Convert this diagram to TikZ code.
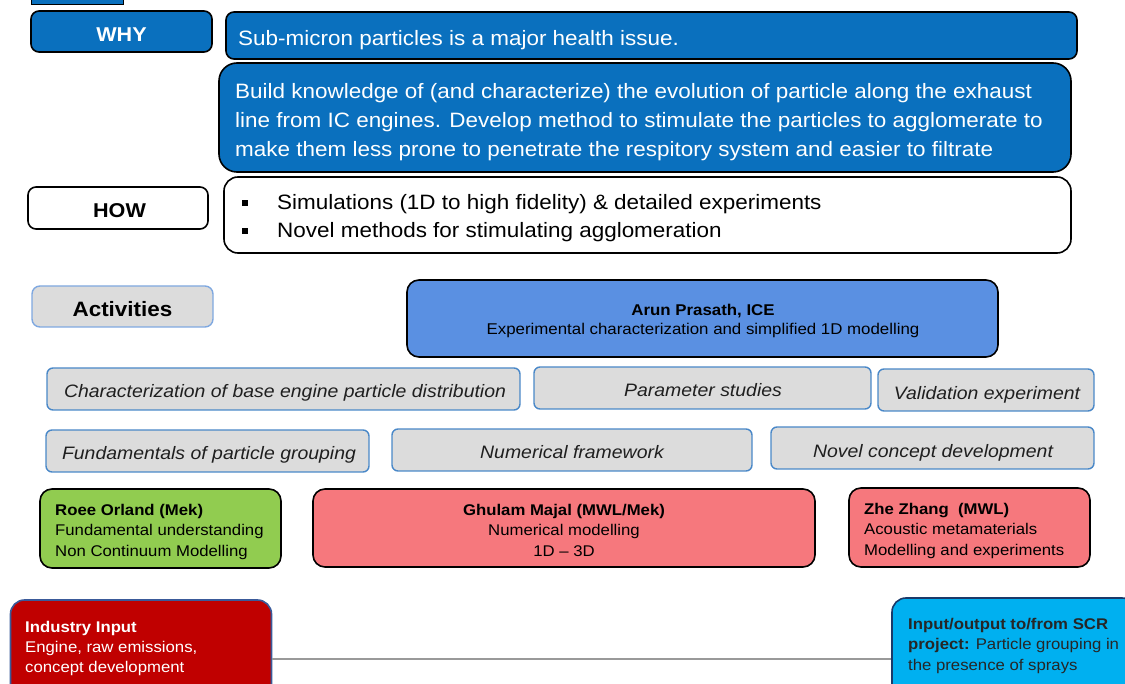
\documentclass[tikz,border=0pt]{standalone}
\usepackage{fontspec}
\setmainfont{Liberation Sans}[FakeStretch=1.08]
\definecolor{whyblue}{HTML}{0A70BE}
\definecolor{arunblue}{HTML}{5A90E2}
\definecolor{actgray}{HTML}{DCDCDC}
\definecolor{actedge}{HTML}{4A88C8}
\definecolor{actedgeB}{HTML}{7FA8E0}
\definecolor{leafgreen}{HTML}{91CC50}
\definecolor{salmon}{HTML}{F6787D}
\definecolor{indred}{HTML}{C00000}
\definecolor{indedge}{HTML}{3A5A9A}
\definecolor{scrblue}{HTML}{00B0F0}
\definecolor{scredge}{HTML}{1A3A6A}
\tikzset{
  box/.style={draw, line width=1.6pt, rounded corners=8pt, inner sep=0pt},
  bluebox/.style={box, fill=whyblue},
  actbox/.style={box, fill=actgray, draw=actedge, line width=1.4pt, rounded corners=6pt},
  personbox/.style={box, rounded corners=12pt},
  % multi-line text nodes are placed by the baseline of their last line
  txt/.style={inner sep=0pt, align=left},
  labeltext/.style={txt, anchor=base, font=\fontsize{20}{24}\selectfont\bfseries},
  bodytext/.style={txt, anchor=base west, font=\fontsize{20.8}{29}\selectfont},
  acttext/.style={txt, anchor=base, text=black!88, font=\fontsize{18}{22}\selectfont\itshape},
  persontext/.style={txt, anchor=base west, font=\fontsize{15.5}{20.5}\selectfont},
}
\begin{document}
\begin{tikzpicture}[x=1pt,y=-1pt]
\useasboundingbox (0,0) rectangle (1125,684);

% strip of a header bar at the top edge
\node[box, fill=whyblue, rounded corners=0pt, line width=1pt, minimum width=92pt, minimum height=14pt] (header) at (77,-2) {};

% WHY row
\node[bluebox, minimum width=181pt, minimum height=41pt] (why) at (121.5,31.5) {};
\node[labeltext, text=white] (whytext) at (121.5,41.5) {WHY};
\node[bluebox, minimum width=851pt, minimum height=47pt] (issue) at (651.5,35.5) {};
\node[bodytext, text=white] (issuetext) at (238,46) {Sub-micron particles is a major health issue.};
\node[bluebox, rounded corners=18pt, minimum width=852pt, minimum height=109pt] (goal) at (645,117.5) {};
\node[bodytext, text=white] (goaltext) at (235,157)
  {Build knowledge of (and characterize) the evolution of particle along the exhaust\\
   line from IC engines. Develop method to stimulate the particles to agglomerate to\\
   make them less prone to penetrate the respitory system and easier to filtrate};

% HOW row
\node[box, fill=white, minimum width=180pt, minimum height=42pt] (how) at (118,208) {};
\node[labeltext] (howtext) at (119.5,218) {HOW};
\node[box, fill=white, rounded corners=14pt, minimum width=847pt, minimum height=76pt] (method) at (647.5,215) {};
\node[bodytext, font=\fontsize{20.8}{28}\selectfont] (methodtext) at (242,238)
  {\makebox[35pt][l]{\rule[3.5pt]{6pt}{6pt}}Simulations (1D to high fidelity) \& detailed experiments\\
   \makebox[35pt][l]{\rule[3.5pt]{6pt}{6pt}}Novel methods for stimulating agglomeration};

% Activities
\node[box, fill=actgray, draw=actedgeB, line width=1.4pt, minimum width=181pt, minimum height=41pt] (act) at (122.5,306.5) {};
\node[labeltext, font=\fontsize{20.8}{24}\selectfont\bfseries] (acttitle) at (122.5,317) {Activities};
\node[box, fill=arunblue, rounded corners=12pt, minimum width=591pt, minimum height=77pt] (arun) at (702.5,318.5) {};
\node[txt, anchor=base, align=center, font=\fontsize{15.6}{19.5}\selectfont] (aruntext) at (703,335)
  {\textbf{Arun Prasath, ICE}\\Experimental characterization and simplified 1D modelling};

\node[actbox, minimum width=473pt, minimum height=42pt] (charact) at (283.5,389) {};
\node[acttext] (characttext) at (285,398) {Characterization of base engine particle distribution};
\node[actbox, minimum width=337pt, minimum height=42pt] (param) at (702.5,388) {};
\node[acttext] (paramtext) at (703,397) {Parameter studies};
\node[actbox, minimum width=216pt, minimum height=42pt] (valid) at (986,390) {};
\node[acttext] (validtext) at (987,400) {Validation experiment};
\node[actbox, minimum width=323pt, minimum height=42pt] (fund) at (207.5,451) {};
\node[acttext] (fundtext) at (209,460) {Fundamentals of particle grouping};
\node[actbox, minimum width=360pt, minimum height=42pt] (numfw) at (572,450) {};
\node[acttext] (numfwtext) at (572,459) {Numerical framework};
\node[actbox, minimum width=323pt, minimum height=42pt] (novel) at (932.5,448) {};
\node[acttext] (noveltext) at (933,457) {Novel concept development};

% People
\node[personbox, fill=leafgreen, minimum width=241pt, minimum height=79pt] (roee) at (160.5,528.5) {};
\node[persontext] (roeetext) at (55,556)
  {\textbf{Roee Orland (Mek)}\\Fundamental understanding\\Non Continuum Modelling};
\node[personbox, fill=salmon, minimum width=502pt, minimum height=78pt] (ghulam) at (564,528) {};
\node[persontext, anchor=base, align=center] (ghulamtext) at (564,556)
  {\textbf{Ghulam Majal (MWL/Mek)}\\Numerical modelling\\1D -- 3D};
\node[personbox, fill=salmon, minimum width=241pt, minimum height=79pt] (zhe) at (969.5,527.5) {};
\node[persontext] (zhetext) at (864,555)
  {\textbf{Zhe Zhang\ \ (MWL)}\\Acoustic metamaterials\\Modelling and experiments};

% Inputs at the bottom edge
\node[box, fill=indred, draw=indedge, rounded corners=14pt, minimum width=261pt, minimum height=110pt] (industry) at (141,655) {};
\node[persontext, text=white, font=\fontsize{15.5}{20}\selectfont] (industrytext) at (25,672)
  {\textbf{Industry Input}\\Engine, raw emissions,\\concept development};
\node[box, fill=scrblue, draw=scredge, rounded corners=14pt, minimum width=244pt, minimum height=116pt] (scr) at (1014,656) {};
\node[persontext, text=black!85, font=\fontsize{15.5}{20.5}\selectfont] (scrtext) at (908,670)
  {\textbf{Input/output to/from SCR}\\\textbf{project:} Particle grouping in\\the presence of sprays};

\draw[gray!80, line width=1.3pt] (industry.east |- 0,659) -- (scr.west |- 0,659);
\end{tikzpicture}
\end{document}
